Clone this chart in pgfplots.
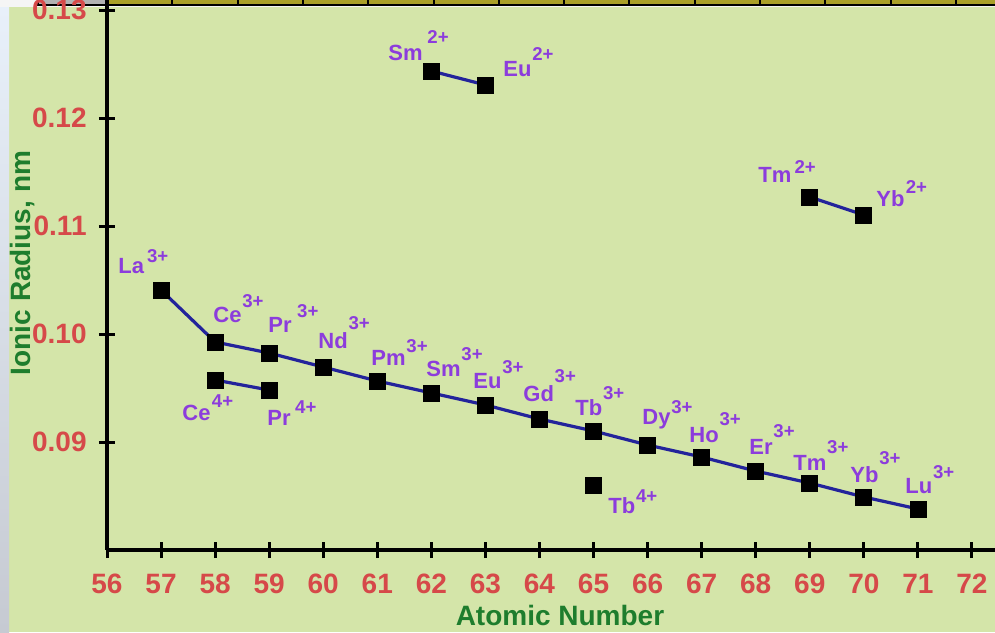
\documentclass[border=0pt]{standalone}
\usepackage{pgfplots}
\pgfplotsset{compat=1.18}
\usepackage{fontspec}
\setmainfont{Liberation Sans}
\definecolor{bgc}{RGB}{212,229,169}
\definecolor{tickred}{RGB}{214,73,73}
\definecolor{labgreen}{RGB}{30,125,45}
\definecolor{ionpurple}{RGB}{140,60,220}
\definecolor{lineblue}{RGB}{35,35,155}
\definecolor{olivec}{RGB}{170,160,40}
\tikzset{
  ionel/.style={anchor=base west, inner sep=0pt, text=ionpurple, font=\fontsize{11}{12}\selectfont\bfseries},
  ionsup/.style={anchor=base west, inner sep=0pt, text=ionpurple, font=\fontsize{9.3}{10}\selectfont\bfseries},
}
% #1 x, #2 y (baseline-left of symbol), #3 symbol, #4 gap, #5 raise, #6 charge
\newcommand\ion[6]{%
  \node[ionel] (n) at (axis cs:#1,#2) {#3};
  \node[ionsup, xshift=#4, yshift=#5] at (n.base east) {#6};}
\begin{document}
\begin{tikzpicture}
\useasboundingbox (0,0) rectangle (497.5pt,316pt);
\clip (0,0) rectangle (497.5pt,316pt);
\begin{scope}[x=0.5pt,y=0.5pt]
\fill[bgc] (0,0) rectangle (995,632);
\shade[top color={rgb,255:red,232;green,240;blue,250}, bottom color={rgb,255:red,198;green,202;blue,210}] (0,0) rectangle (9,625);
\fill[white!92!gray] (0,625) rectangle (995,632);
\fill[olivec] (38,627) rectangle (995,632);
\fill[gray!60] (38,627) rectangle (107,632);
\draw[black,line width=1pt] (38,632) -- (38,627) -- (995,627);
\foreach \k in {0,...,13} {\draw[black,line width=1pt] ({107+65.3*\k},627) -- ({107+65.3*\k},632);}
\end{scope}
\begin{axis}[
  at={(53.5pt,41pt)}, anchor=south west, scale only axis,
  width=451.4pt, height=278.1pt,
  xmin=56, xmax=72.7, ymin=0.08, ymax=0.1315,
  axis lines*=left,
  axis line style={line width=2pt, black},
  tick style={line width=1.5pt, black},
  major tick length=8pt,
  tick align=center,
  xtick={56,...,72},
  ytick={0.09,0.1,0.11,0.12,0.13},
  yticklabels={0.09,0.10,0.11,0.12,0.13},
  /pgf/number format/assume math mode=true,
  ticklabel style={font=\fontsize{14}{14}\selectfont\bfseries, text=tickred, inner sep=0pt},
  xticklabel style={anchor=north, yshift=-8pt},
  yticklabel style={anchor=east, xshift=-6pt},
  xlabel={Atomic Number},
  ylabel={Ionic Radius, nm},
  label style={font=\fontsize{14}{14}\selectfont\bfseries, text=labgreen},
  xlabel style={at={(rel axis cs:0.5,0)}, anchor=center, yshift=-32.5pt, xshift=0.8pt},
  ylabel style={at={(rel axis cs:0,0.516)}, anchor=center, rotate=0, yshift=42pt},
  clip=false,
]
% Ln3+ series
\addplot[lineblue, line width=1.6pt, mark=square*, mark size=4pt, mark options={solid, fill=black, draw=black, line width=0.4pt}] coordinates {
(57,0.10407) (58,0.09926) (59,0.09824) (60,0.09694) (61,0.09565) (62,0.09454) (63,0.09343) (64,0.09213) (65,0.09102) (66,0.08972) (67,0.08861) (68,0.08731) (69,0.08620) (70,0.08491) (71,0.08380)};
% Ce4+, Pr4+
\addplot[lineblue, line width=1.6pt, mark=square*, mark size=4pt, mark options={solid, fill=black, draw=black, line width=0.4pt}] coordinates {
(58,0.09574) (59,0.09481)};
% Tb4+
\addplot[only marks, mark=square*, mark size=4pt, mark options={solid, fill=black, draw=black, line width=0.4pt}] coordinates {
(65,0.08602)};
% Sm2+, Eu2+
\addplot[lineblue, line width=1.6pt, mark=square*, mark size=4pt, mark options={solid, fill=black, draw=black, line width=0.4pt}] coordinates {
(62,0.12435) (63,0.12306)};
% Tm2+, Yb2+
\addplot[lineblue, line width=1.6pt, mark=square*, mark size=4pt, mark options={solid, fill=black, draw=black, line width=0.4pt}] coordinates {
(69,0.11269) (70,0.11102)};
% labels
\ion{56.2035}{0.105648}{La}{1.1pt}{5.5pt}{3+}
\ion{57.9607}{0.101019}{Ce}{0pt}{7.5pt}{3+}
\ion{58.9780}{0.100185}{Pr}{2.4pt}{7.5pt}{3+}
\ion{59.9029}{0.098704}{Nd}{0pt}{9.5pt}{3+}
\ion{60.8832}{0.097130}{Pm}{0pt}{6.5pt}{3+}
\ion{61.9006}{0.096111}{Sm}{0pt}{8pt}{3+}
\ion{62.7699}{0.095000}{Eu}{0pt}{7.5pt}{3+}
\ion{63.6948}{0.093796}{Gd}{0pt}{9.5pt}{3+}
\ion{64.6566}{0.092500}{Tb}{0pt}{8pt}{3+}
\ion{65.8960}{0.091667}{Dy}{0pt}{5.5pt}{3+}
\ion{66.7653}{0.090000}{Ho}{0pt}{8.5pt}{3+}
\ion{67.8751}{0.088889}{Er}{0pt}{8.5pt}{3+}
\ion{68.6890}{0.087407}{Tm}{0pt}{8.5pt}{3+}
\ion{69.7434}{0.086296}{Yb}{0pt}{9pt}{3+}
\ion{70.7607}{0.085278}{Lu}{0pt}{7.5pt}{3+}
\ion{57.3873}{0.092037}{Ce}{0.3pt}{6.5pt}{4+}
\ion{58.9595}{0.091574}{Pr}{1.9pt}{6pt}{4+}
\ion{65.2670}{0.083426}{Tb}{0pt}{5.5pt}{4+}
\ion{61.1977}{0.125370}{Sm}{2pt}{8.5pt}{2+}
\ion{63.3249}{0.123889}{Eu}{0pt}{8pt}{2+}
\ion{68.0416}{0.114074}{Tm}{1.2pt}{4.5pt}{2+}
\ion{70.2243}{0.111852}{Yb}{0.3pt}{6.5pt}{2+}
\end{axis}
\end{tikzpicture}
\end{document}
